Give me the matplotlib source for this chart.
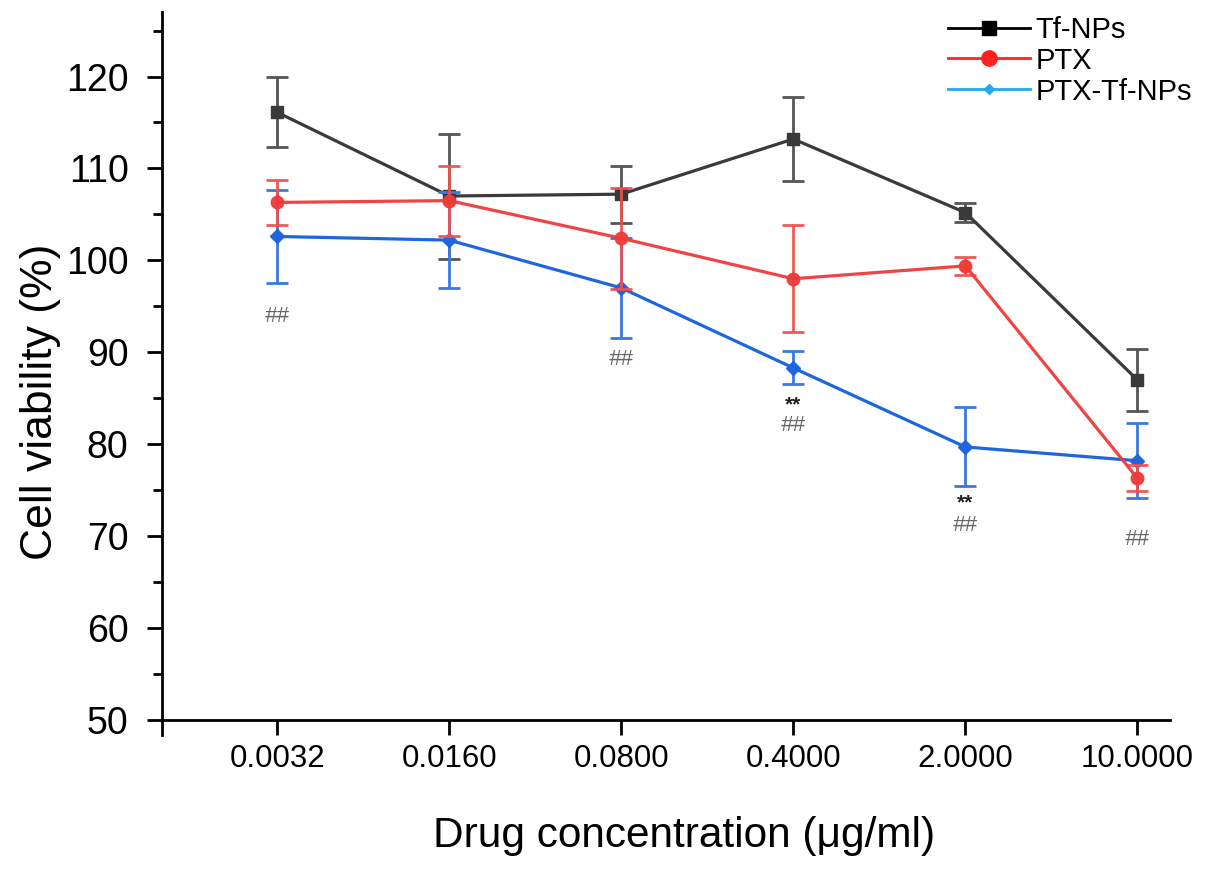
import numpy as np
import matplotlib
matplotlib.use('Agg')
import matplotlib.pyplot as plt
from matplotlib.lines import Line2D

conc_labels = ['0.0032', '0.0160', '0.0800', '0.4000', '2.0000', '10.0000']

tf_nps = [116.1, 107.0, 107.2, 113.2, 105.2, 87.0]
tf_nps_err = [3.8, 6.8, 3.1, 4.6, 1.0, 3.4]

ptx = [106.3, 106.5, 102.4, 98.0, 99.4, 76.3]
ptx_err = [2.4, 3.8, 5.5, 5.8, 1.0, 1.4]

ptx_tf = [102.6, 102.2, 97.0, 88.3, 79.7, 78.2]
ptx_tf_err = [5.1, 5.2, 5.4, 1.8, 4.3, 4.1]

# significance marks: (category index, y value)
hash_marks = [(0, 93.9), (2, 89.2), (3, 82.0), (4, 71.2), (5, 69.6)]
star_marks = [(3, 84.3), (4, 73.6)]

black = '#3a3a3a'
red = '#f03a3a'
blue = '#1f66de'

plt.rcParams['font.family'] = ['Liberation Sans', 'DejaVu Sans']

fig = plt.figure(figsize=(12.05, 8.69), dpi=100)
ax = fig.add_axes([0.1344, 0.1715, 0.8366, 0.8145])

x = np.arange(len(conc_labels))

ax.errorbar(x, tf_nps, yerr=tf_nps_err, color=black, ecolor='#555555',
            marker='s', markersize=8, linewidth=2.3, elinewidth=2, capsize=8,
            capthick=2, zorder=3)
ax.errorbar(x, ptx_tf, yerr=ptx_tf_err, color=blue, ecolor='#3a78e0',
            marker='D', markersize=7, linewidth=2.3, elinewidth=2, capsize=8,
            capthick=2, zorder=4)
ax.errorbar(x, ptx, yerr=ptx_err, color=red, ecolor='#f05050',
            marker='o', markersize=9, linewidth=2.3, elinewidth=2, capsize=8,
            capthick=2, zorder=5, alpha=0.95)

for i, yv in hash_marks:
    ax.text(x[i], yv, '##', ha='center', va='center', fontsize=16,
            color='#666666', style='italic')
# '*' sits high in its box, so set the baseline a bit under the mark
for i, yv in star_marks:
    ax.text(x[i], yv - 0.6, '**', ha='center', va='baseline', fontsize=15,
            color='#222222', fontweight='bold')

ax.set_xlim(-0.67, 5.19)
ax.set_ylim(50, 127)
ax.set_yticks(np.arange(50, 121, 10))
ax.set_yticks(np.arange(55, 127, 10), minor=True)
ax.set_xticks(x)
ax.set_xticklabels(conc_labels, fontsize=22.5)
ax.tick_params(axis='y', labelsize=27, length=11, width=2, direction='out', pad=13)
ax.tick_params(axis='y', which='minor', length=6.5, width=2)
ax.tick_params(axis='x', length=11, width=2, direction='out', pad=6)

for s in ['top', 'right']:
    ax.spines[s].set_visible(False)
for s in ['left', 'bottom']:
    ax.spines[s].set_linewidth(2)
ax.spines['left'].set_bounds(48.4, 127)

ax.set_ylabel('Cell viability (%)', fontsize=32)
ax.yaxis.set_label_coords(-0.1, 0.45)
ax.set_xlabel('Drug concentration (\u03bcg/ml)', fontsize=30.5)
ax.xaxis.set_label_coords(0.518, -0.135)

handles = [
    Line2D([], [], color='black', marker='s', markersize=10, linewidth=2),
    Line2D([], [], color='#ff2020', marker='o', markersize=11, linewidth=2),
    Line2D([], [], color='#22a8f0', marker='D', markersize=5, linewidth=2),
]
ax.legend(handles, ['Tf-NPs', 'PTX', 'PTX-Tf-NPs'], loc='upper right',
          bbox_to_anchor=(1.048, 1.032), frameon=False, fontsize=21,
          handlelength=2.8, handletextpad=0.2, labelspacing=0.1)

fig.savefig('out.png', dpi=100)
